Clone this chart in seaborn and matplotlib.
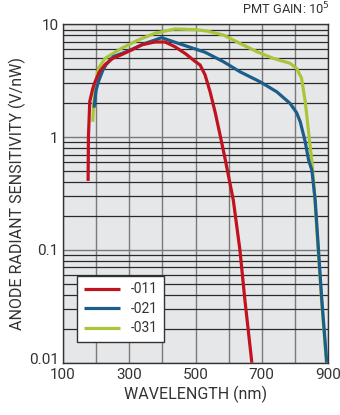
import numpy as np
import pandas as pd
import matplotlib
matplotlib.use("Agg")
import matplotlib.pyplot as plt
import matplotlib.transforms as mtrans
from matplotlib.ticker import FixedLocator, LogLocator, NullFormatter
import seaborn as sns

sns.set_theme(style="ticks")
plt.rcParams['font.family'] = ['Roboto', 'DejaVu Sans']

# spectral response curves (nm, V/nW)
wl_011 = [176, 177, 181, 190, 197, 210, 227, 250, 277, 310, 338, 378, 408, 438, 470,
          499, 514, 529, 544, 559, 574, 589, 614, 634, 649, 670]
sens_011 = [0.41, 1.0, 2.07, 2.7, 3.1, 3.8, 4.4, 5.0, 5.4, 6.0, 6.6, 7.0, 7.0, 6.35, 5.5,
            4.7, 4.37, 3.56, 2.53, 1.68, 1.05, 0.65, 0.277, 0.1, 0.036, 0.01]

wl_021 = [194, 200, 207, 220, 230, 252, 297, 348, 398, 448, 529, 584, 634, 695, 745,
          785, 805, 816, 831, 841, 851, 861, 871, 881, 896]
sens_021 = [1.83, 2.6, 3.1, 3.9, 4.4, 5.18, 5.82, 6.8, 7.64, 6.8, 5.67, 4.68, 3.81, 3.1, 2.53,
            2.0, 1.65, 1.37, 0.91, 0.63, 0.51, 0.277, 0.1, 0.036, 0.01]

wl_031 = [190, 193, 197, 202, 207, 227, 277, 327, 378, 438, 499, 534, 584, 634, 685,
          735, 785, 805, 820, 831, 841, 851, 858, 868, 880, 895]
sens_031 = [1.37, 2.0, 2.53, 3.4, 4.08, 5.0, 6.15, 7.28, 8.36, 9.12, 9.0, 8.75, 8.07, 6.8, 5.74,
            5.0, 4.53, 4.08, 3.33, 2.07, 1.12, 0.61, 0.35, 0.12, 0.037, 0.01]

series_names = ["-011", "-021", "-031"]
series_colors = {"-011": "#c1121f", "-021": "#1c5d8a", "-031": "#a9c63a"}

df = pd.concat([
    pd.DataFrame({"wl": wl_011, "sens": sens_011, "tube": "-011"}),
    pd.DataFrame({"wl": wl_021, "sens": sens_021, "tube": "-021"}),
    pd.DataFrame({"wl": wl_031, "sens": sens_031, "tube": "-031"}),
])

fig = plt.figure(figsize=(3.4, 4.15), dpi=100)
ax = fig.add_axes([0.185, 0.126, 0.78, 0.815])
ax.set_facecolor("#e6e7e9")

# draw green first, red last (red sits on top in the picture)
for i, name in enumerate(["-031", "-021", "-011"]):
    sns.lineplot(data=df[df.tube == name], x="wl", y="sens", color=series_colors[name],
                 lw=2.3, sort=False, estimator=None, ax=ax, label=name, zorder=3 + i,
                 solid_capstyle="butt")

ax.set_yscale("log")
ax.set_xlim(100, 900)
ax.set_ylim(0.01, 10)

ax.xaxis.set_major_locator(FixedLocator(np.arange(100, 901, 100)))
ax.set_xticklabels([str(v) if v % 200 == 100 else "" for v in range(100, 901, 100)])
ax.yaxis.set_major_locator(FixedLocator([0.01, 0.1, 1, 10]))
ax.set_yticklabels(["0.01", "0.1", "1", "10"])
ax.yaxis.set_minor_locator(LogLocator(base=10, subs=np.arange(2, 10)))
ax.yaxis.set_minor_formatter(NullFormatter())

ax.grid(True, which="major", axis="both", color="#7a7a7a", lw=1.0, zorder=1)
ax.grid(True, which="minor", axis="y", color="#2a2a2a", lw=0.9, zorder=1)
ax.set_axisbelow(True)
ax.tick_params(which="both", length=0, labelsize=11, colors="#333333")
ax.tick_params(axis="x", pad=3.5)
ax.tick_params(axis="y", pad=3)

# nudge the bottom y label up a little so it clears "100"
lab = ax.get_yticklabels()[0]
lab.set_transform(lab.get_transform() + mtrans.ScaledTranslation(0, 3 / 72, fig.dpi_scale_trans))

for s in ax.spines.values():
    s.set_color("#333333")
    s.set_linewidth(1.0)

ax.set_xlabel("WAVELENGTH (nm)", fontsize=11.5, color="#333333", labelpad=3)
ax.set_ylabel("ANODE RADIANT SENSITIVITY (V/nW)", fontsize=11.5, color="#333333", labelpad=2)

fig.text(0.972, 0.958, "PMT GAIN: 10$^5$", ha="right", va="bottom", fontsize=9.3, color="#333333")

handles, labels = ax.get_legend_handles_labels()
order = [labels.index(n) for n in series_names]
leg = ax.legend([handles[i] for i in order], series_names, loc="lower left",
                bbox_to_anchor=(0.055, 0.062), fontsize=10, frameon=True, fancybox=False,
                framealpha=1, edgecolor="#333333", handlelength=2.6, borderpad=0.45,
                labelspacing=0.4, handletextpad=0.8, borderaxespad=0)
leg.get_frame().set_linewidth(1.0)
for t in leg.get_texts():
    t.set_color("#333333")

fig.savefig("out.png", dpi=100)
